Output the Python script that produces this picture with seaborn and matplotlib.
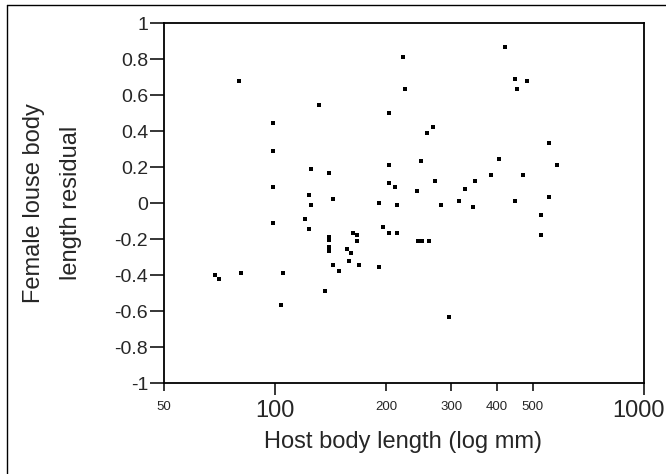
import matplotlib
matplotlib.use("Agg")
import matplotlib.pyplot as plt
import matplotlib.lines as mlines
import matplotlib.transforms as mtransforms
from matplotlib.ticker import FixedLocator, FixedFormatter
import seaborn as sns
import pandas as pd

host_length = [221.8, 79.7, 225, 131.3, 203, 98.6, 98.6, 203, 124.9, 139.8,
               203, 211, 98.6, 123.4, 143.3, 124.9, 191, 213.7, 98.6, 120.3,
               123.4, 139.8, 139.8, 139.8, 139.8, 162.4, 166.4, 166.4, 195.8, 203,
               213.7, 156.4, 160.4, 158.4, 143.3, 148.8, 168.5, 191, 68.6, 70.4,
               80.7, 104.9, 103.6, 136.3, 419, 446, 481, 452, 267.5, 257.7,
               551.8, 248.3, 403.8, 580, 384.3, 469, 270.9, 347.7, 242.1, 326.7,
               551.8, 314.7, 446, 281, 343.4, 525, 525, 243.5, 249.7, 260.9,
               295.7]
residual = [0.811, 0.678, 0.633, 0.544, 0.50, 0.444, 0.289, 0.211, 0.189, 0.167,
            0.111, 0.089, 0.089, 0.044, 0.022, -0.011, 0.0, -0.011, -0.111, -0.089,
            -0.144, -0.185, -0.205, -0.245, -0.265, -0.163, -0.178, -0.211, -0.13, -0.167,
            -0.167, -0.256, -0.278, -0.322, -0.344, -0.378, -0.344, -0.356, -0.40, -0.422,
            -0.389, -0.389, -0.567, -0.489, 0.867, 0.689, 0.678, 0.633, 0.422, 0.389,
            0.333, 0.233, 0.244, 0.211, 0.156, 0.156, 0.122, 0.122, 0.067, 0.078,
            0.033, 0.011, 0.011, -0.011, -0.022, -0.067, -0.178, -0.211, -0.211, -0.211,
            -0.633]

x_major_ticks = [100, 1000]
x_major_labels = ["100", "1000"]
x_minor_ticks = [50, 200, 300, 400, 500]
x_minor_labels = ["50", "200", "300", "400", "500"]
y_ticks = [-1, -0.8, -0.6, -0.4, -0.2, 0, 0.2, 0.4, 0.6, 0.8, 1]
y_labels = ["-1", "-0.8", "-0.6", "-0.4", "-0.2", "0", "0.2", "0.4", "0.6", "0.8", "1"]

x_label = "Host body length (log mm)"
y_label_lines = ["Female louse body", "length residual"]

df = pd.DataFrame({"host": host_length, "resid": residual})

sns.set_style("white")
plt.rcParams['font.family'] = ['Liberation Sans', 'DejaVu Sans']

W, H = 666, 474
fig = plt.figure(figsize=(W / 100, H / 100), dpi=100)
ax = fig.add_axes([164 / W, 1 - 383.3 / H, (644 - 164) / W, (383.3 - 23.3) / H])

sns.scatterplot(data=df, x="host", y="resid", ax=ax, marker="s", s=7,
                color="black", linewidth=0, legend=False)

ax.set_xscale("log")
ax.set_xlim(50, 1000)
ax.set_ylim(-1, 1)

ax.xaxis.set_major_locator(FixedLocator(x_major_ticks))
ax.xaxis.set_major_formatter(FixedFormatter(x_major_labels))
ax.xaxis.set_minor_locator(FixedLocator(x_minor_ticks))
ax.xaxis.set_minor_formatter(FixedFormatter(x_minor_labels))
ax.set_yticks(y_ticks)
ax.set_yticklabels(y_labels)

ax.tick_params(axis="x", which="major", direction="out", length=8.6, width=1.1,
               labelsize=17, pad=3.5, color="black", bottom=True)
ax.tick_params(axis="x", which="minor", direction="out", length=5.4, width=1.1,
               labelsize=9.5, pad=7, color="black", bottom=True)
ax.tick_params(axis="y", which="major", direction="out", length=10, width=1.1,
               labelsize=14, pad=1.5, color="black", left=True)

for s in ax.spines.values():
    s.set_visible(True)
    s.set_color("black")
    s.set_linewidth(1.3)

# nudge the "1000" label left so it stays inside the figure (as in the reference)
fig.canvas.draw()
for lbl in ax.xaxis.get_majorticklabels():
    if lbl.get_text() == "1000":
        lbl.set_transform(lbl.get_transform() +
                          mtransforms.ScaledTranslation(-6 / 100, 0, fig.dpi_scale_trans))

ax.set_xlabel("")
ax.set_ylabel("")
fig.text(403 / W, 1 - 442 / H, x_label, ha="center", va="center", fontsize=17)
fig.text(34 / W, 1 - 203 / H, y_label_lines[0], ha="center", va="center", rotation=90,
         fontsize=17)
fig.text(71 / W, 1 - 203 / H, y_label_lines[1], ha="center", va="center", rotation=90,
         fontsize=17)

# outer frame (left and top edges visible)
fig.add_artist(mlines.Line2D([7 / W, 7 / W], [0, 1 - 5 / H], transform=fig.transFigure,
                             color="black", linewidth=1.0))
fig.add_artist(mlines.Line2D([7 / W, 1], [1 - 5 / H, 1 - 5 / H], transform=fig.transFigure,
                             color="black", linewidth=1.0))

fig.savefig("out.png", dpi=100)
